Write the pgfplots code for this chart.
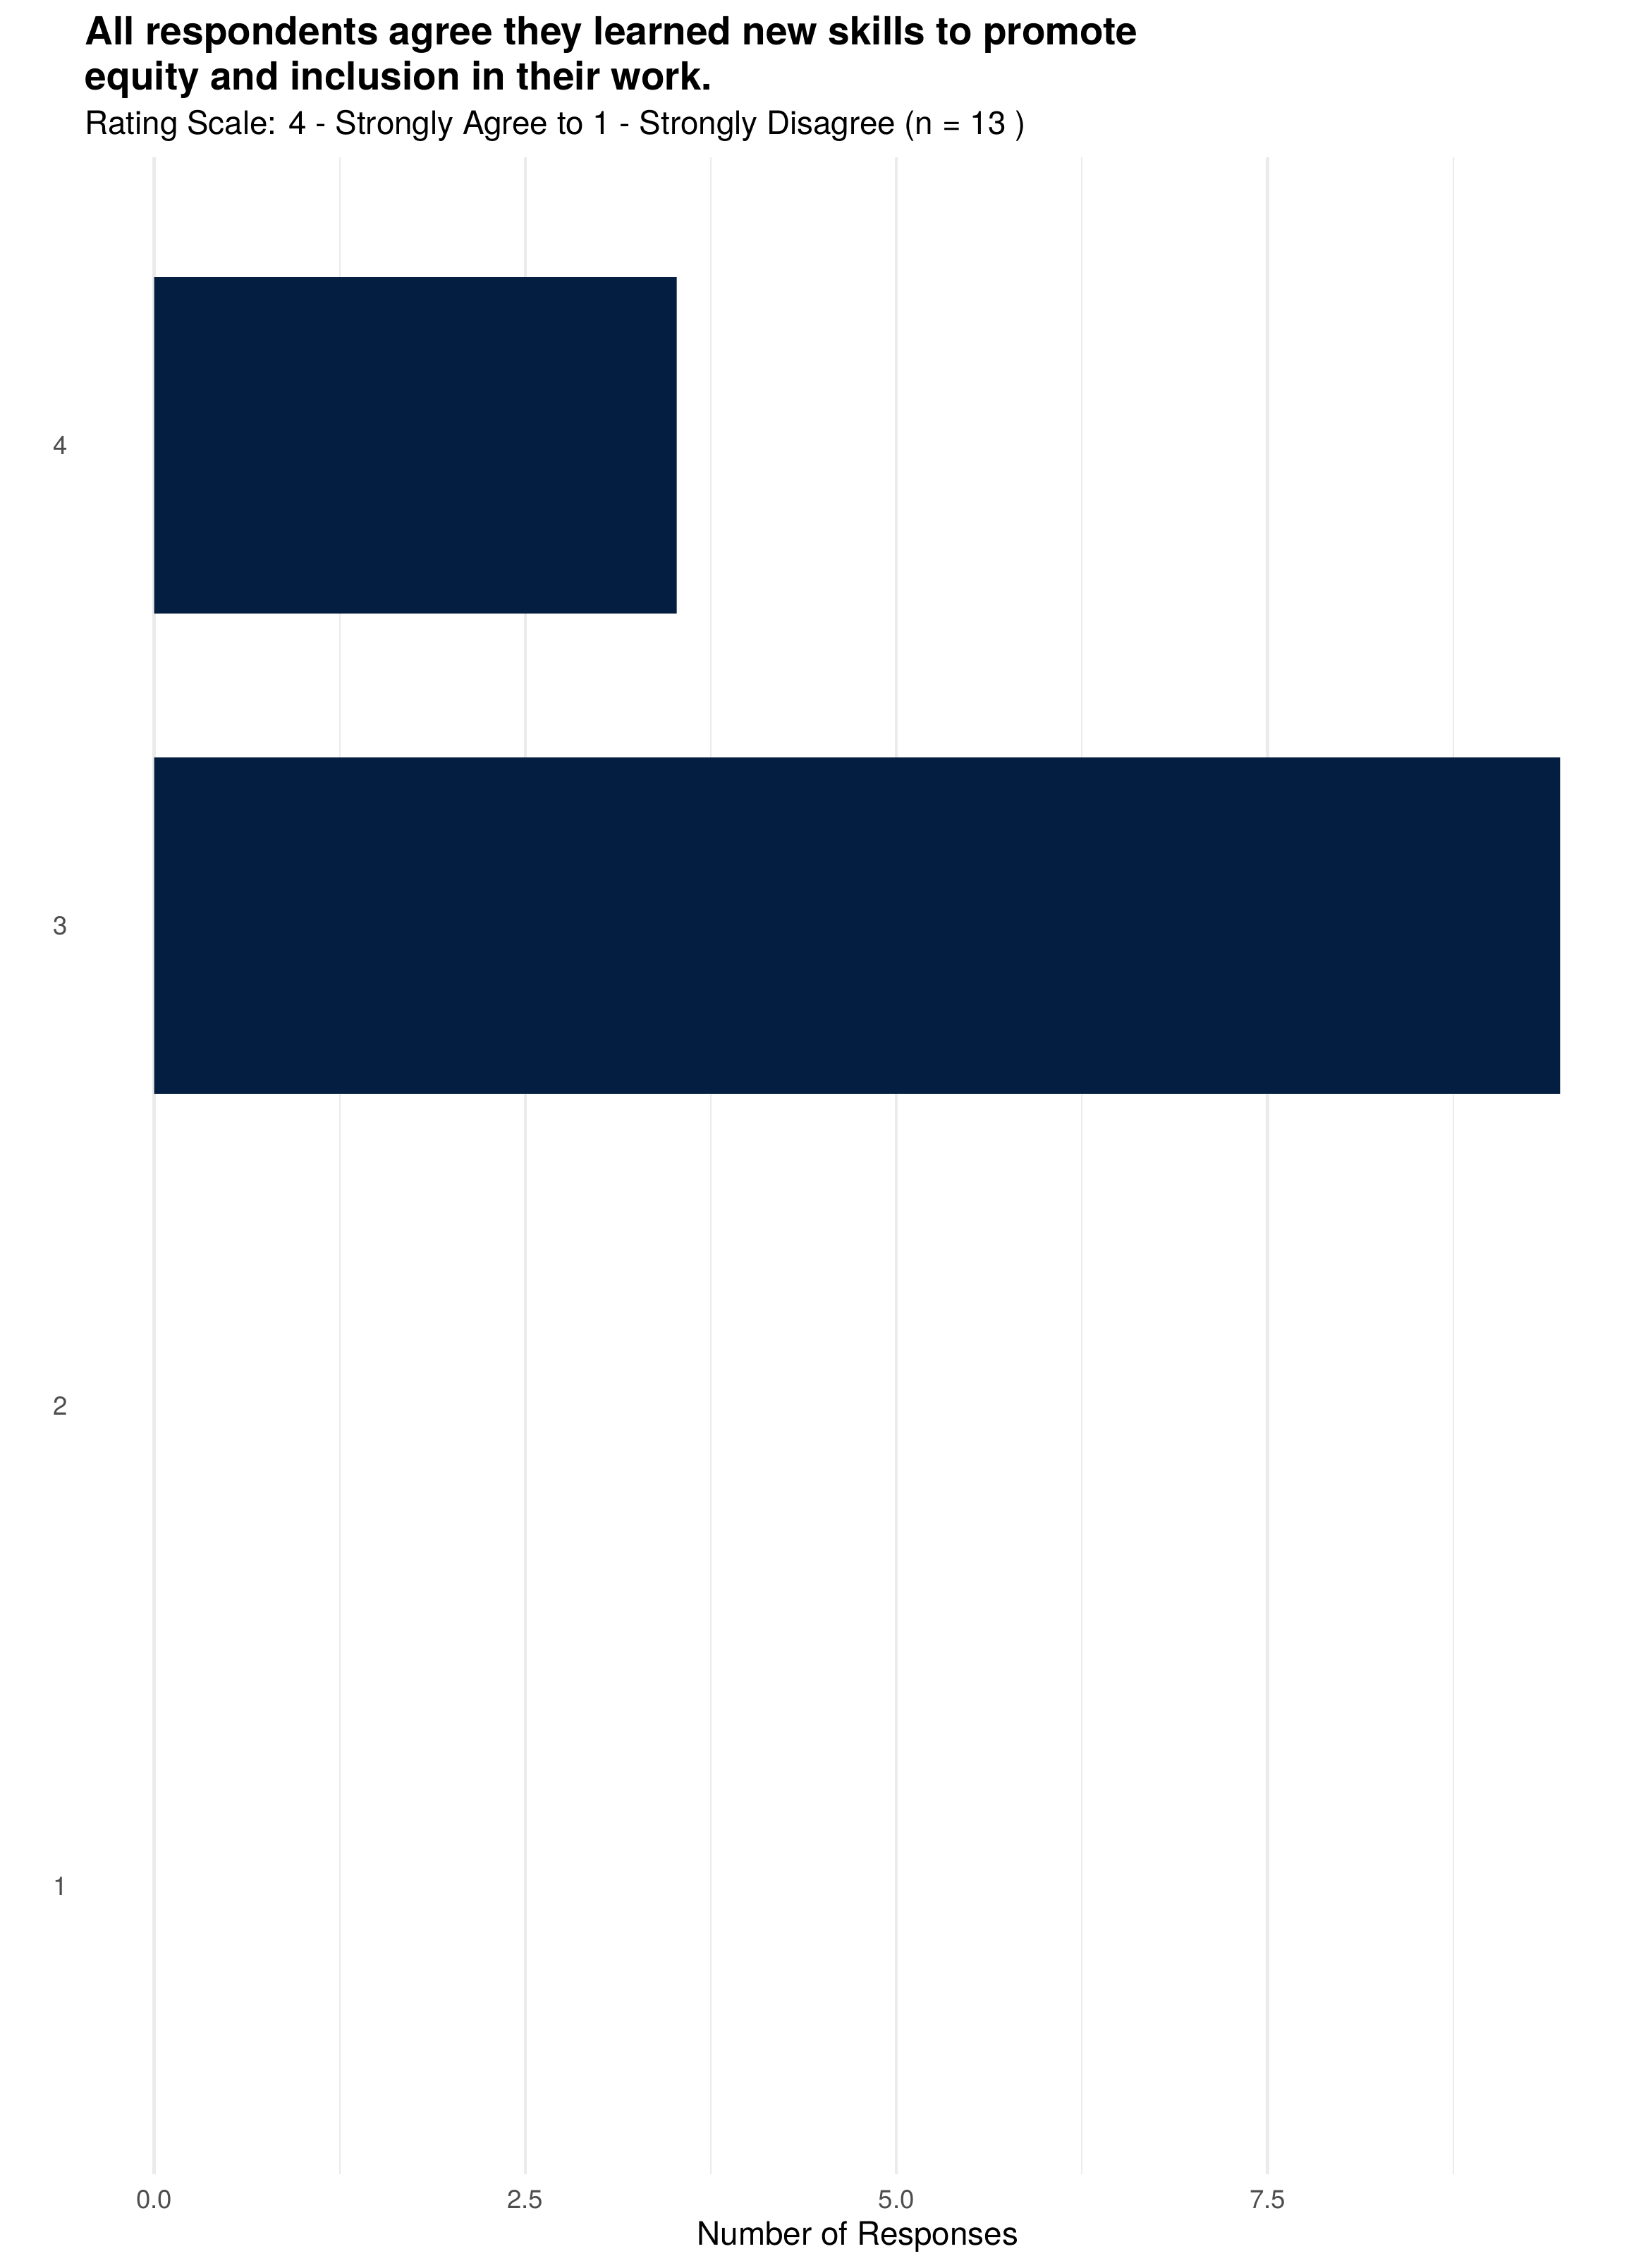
\documentclass[border=0pt]{standalone}
\usepackage{fontspec}
\setmainfont{TeX Gyre Heros}
\usepackage{pgfplots}
\pgfplotsset{compat=1.18}
\definecolor{barc}{HTML}{041E42}
\definecolor{gridc}{HTML}{EBEBEB}
\definecolor{tickc}{HTML}{4D4D4D}
\begin{document}
\begin{tikzpicture}
\path[use as bounding box] (-28.49pt,-31.92pt) rectangle (532.39pt,739.92pt);
\begin{axis}[
  at={(0pt,0pt)}, anchor=south west,
  scale only axis, width=526.9pt, height=686.4pt,
  xmin=-0.474, xmax=9.954, ymin=0.4, ymax=4.6,
  axis line style={draw=none},
  major tick length=0pt, minor tick length=0pt,
  tick style={draw=none},
  xtick={0,2.5,5,7.5}, xticklabels={0.0,2.5,5.0,7.5},
  minor xtick={1.25,3.75,6.25,8.75},
  ytick={1,2,3,4}, yticklabels={1,2,3,4},
  xmajorgrids, xminorgrids,
  major grid style={gridc, line width=1.07pt},
  minor grid style={gridc, line width=0.53pt},
  xticklabel style={font=\fontsize{8.8}{10}\selectfont, text=tickc, anchor=north, inner sep=0pt, yshift=-5.28pt},
  yticklabel style={font=\fontsize{8.8}{10}\selectfont, text=tickc, anchor=east, inner sep=0pt, xshift=-5.2pt},
  xlabel={Number of Responses},
  xlabel style={at={(axis description cs:0.5,0)}, anchor=base, inner sep=0pt, yshift=-24pt, font=\fontsize{11}{13}\selectfont},
]
\addplot[xbar, bar width=0.7, fill=barc, draw=none] coordinates {(3.52,4) (9.47,3)};
\end{axis}
\node[anchor=base west, inner sep=0pt, font=\bfseries\fontsize{13.2}{14}\selectfont] at (0.3pt,724.73pt) {All respondents agree they learned new skills to promote};
\node[anchor=base west, inner sep=0pt, font=\bfseries\fontsize{13.2}{14}\selectfont] at (0.3pt,709.2pt) {equity and inclusion in their work.};
\node[anchor=base west, inner sep=0pt, font=\fontsize{11}{13}\selectfont] at (0.3pt,694.2pt) {Rating Scale: 4 - Strongly Agree to 1 - Strongly Disagree (n = 13 )};
\end{tikzpicture}
\end{document}
